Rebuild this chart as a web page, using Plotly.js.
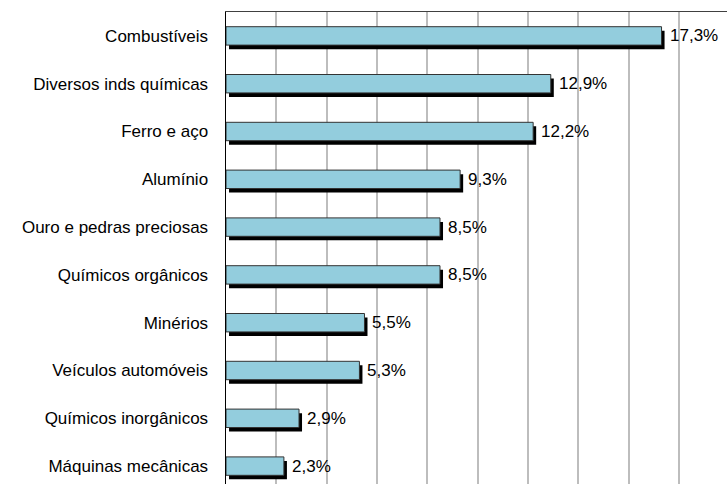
<!DOCTYPE html>
<html>
<head>
<meta charset="utf-8">
<script src="https://cdn.plot.ly/plotly-3.0.1.min.js"></script>
<style>
html,body{margin:0;padding:0;overflow:hidden;background:#fff;width:727px;height:484px;}
#chart{width:727px;height:500px;}
</style>
</head>
<body>
<div id="chart"></div>
<script>
// Data
var categories = [
  "Combustíveis",
  "Diversos inds químicas",
  "Ferro e aço",
  "Alumínio",
  "Ouro e pedras preciosas",
  "Químicos orgânicos",
  "Minérios",
  "Veículos automóveis",
  "Químicos inorgânicos",
  "Máquinas mecânicas"
];
var values = [17.3, 12.9, 12.2, 9.3, 8.5, 8.5, 5.5, 5.3, 2.9, 2.3];

// Styling
var barWidth = 0.385;
var shadowDx = 0.12;   // in x units (~3px)
var shadowDy = 0.085;  // in category units (~4px)
var fontFam = "Liberation Sans, Arial, sans-serif";

var shadow = {
  type: 'bar', orientation: 'h',
  y: categories, x: values,
  base: values.map(function(){return shadowDx;}),
  width: barWidth,
  offset: -barWidth/2 + shadowDy,
  marker: {color: '#000000', line: {width: 0}},
  hoverinfo: 'skip', showlegend: false
};
var bars = {
  type: 'bar', orientation: 'h',
  y: categories, x: values,
  width: barWidth,
  offset: -barWidth/2,
  marker: {color: '#93CDDD', line: {color: '#333333', width: 1}},
  showlegend: false
};

var annotations = categories.map(function(c, i){
  return {
    x: values[i], y: c, xref: 'x', yref: 'y',
    text: values[i].toFixed(1).replace('.', ',') + '%',
    showarrow: false, xanchor: 'left', yanchor: 'middle',
    xshift: 6, yshift: 0,
    font: {family: fontFam, size: 17, color: '#000'}
  };
});

var layout = {
  width: 727, height: 500,
  margin: {l: 226, r: 0, t: 12, b: 10},
  paper_bgcolor: '#fff', plot_bgcolor: '#fff',
  barmode: 'overlay',
  separators: ',.',
  font: {family: fontFam, size: 17, color: '#000'},
  xaxis: {
    range: [0, 19.9], dtick: 2, tick0: 0,
    showgrid: true, gridcolor: '#bdbdbd', gridwidth: 2,
    showticklabels: false, ticks: '',
    zeroline: false,
    showline: true, side: 'top', linecolor: '#404040', linewidth: 1.5,
    fixedrange: true
  },
  yaxis: {
    type: 'category', autorange: 'reversed',
    showgrid: false, zeroline: false,
    showline: true, linecolor: '#000', linewidth: 1.5,
    ticks: '', ticklabelstandoff: 13,
    tickfont: {family: fontFam, size: 17, color: '#000'},
    fixedrange: true
  },
  annotations: annotations
};

Plotly.newPlot('chart', [shadow, bars], layout, {displayModeBar: false, staticPlot: true});
</script>
</body>
</html>
